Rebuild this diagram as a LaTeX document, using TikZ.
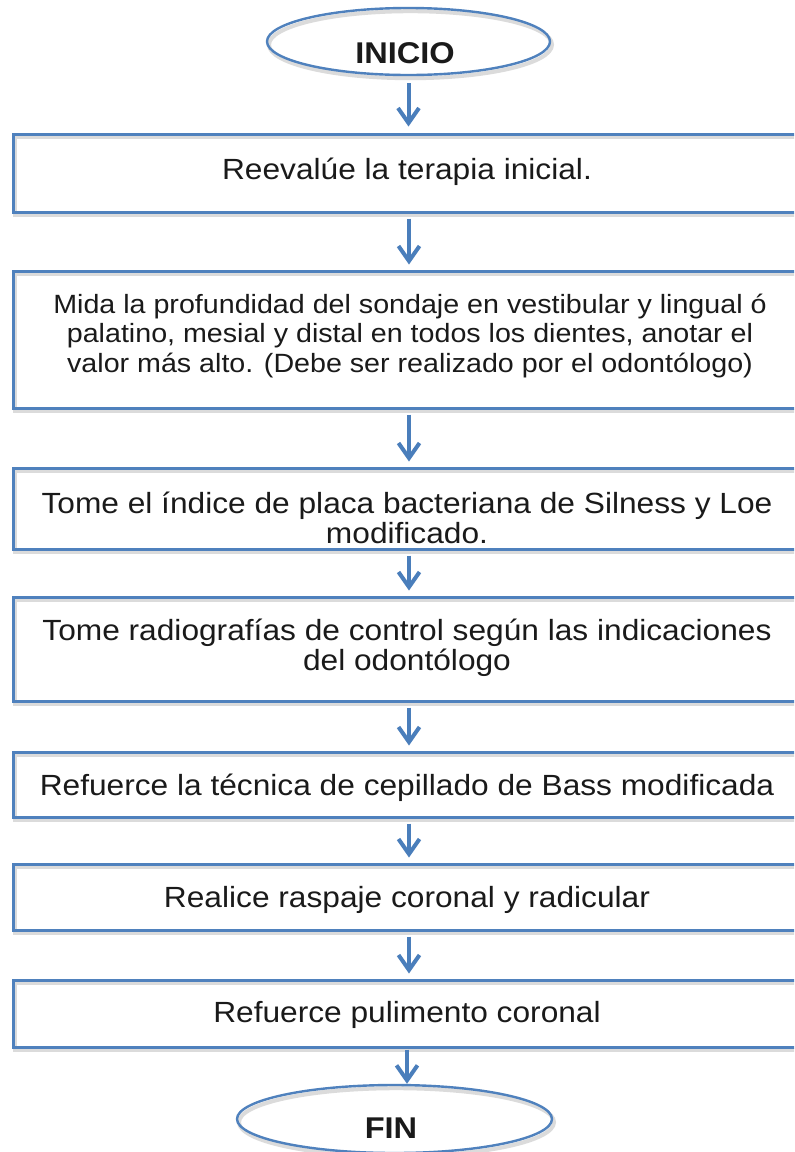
\documentclass[tikz,border=0pt]{standalone}
\usepackage{fontspec}
\setmainfont{Liberation Sans}[FakeStretch=1.085]
\usetikzlibrary{shapes.geometric,arrows.meta}
\definecolor{boxblue}{HTML}{4F81BD}
\definecolor{arrblue}{HTML}{4A7EBB}
\definecolor{txt}{HTML}{1A1A1A}
\begin{document}
\begin{tikzpicture}[x=0.5pt,y=-0.5pt,
  shadowline/.style={preaction={draw=black!14,line width=2pt,transform canvas={xshift=1pt,yshift=-1.6pt}}},
  stepbox/.style={draw=boxblue,line width=1.5pt,minimum width=396pt,inner sep=0pt,shadowline},
  term/.style={ellipse,draw=boxblue,line width=1.2pt,inner sep=0pt,shadowline},
  lbl/.style={anchor=base,inner sep=0pt,text=txt,font=\fontsize{14.6}{15}\selectfont},
  smalllbl/.style={lbl,font=\fontsize{13.2}{14.75}\selectfont},
  tlbl/.style={anchor=base,inner sep=0pt,text=txt,font=\bfseries\fontsize{15}{15}\selectfont},
  arr/.style={draw=arrblue,line width=2pt,-{Straight Barb[length=7.5pt,width=10.5pt]},shorten <=2.5pt,shorten >=2.5pt}]
\useasboundingbox (0,0) rectangle (794,1152);
\fill[white] (0,0) rectangle (794,1152);
\clip (0,0) rectangle (794,1152);

% terminals
\node[term,minimum width=141.5pt,minimum height=33.5pt] (s) at (408.5,41.5) {};
\node[tlbl] (ts) at (405,63) {INICIO};
\node[term,minimum width=157.5pt,minimum height=34pt] (e) at (394.5,1119) {};
\node[tlbl] (te) at (391,1138) {FIN};

% boxes
\node[stepbox,minimum height=39pt]   (b1) at (409,173) {};
\node[stepbox,minimum height=68.5pt] (b2) at (409,339.5) {};
\node[stepbox,minimum height=40.5pt] (b3) at (409,508.5) {};
\node[stepbox,minimum height=52pt]   (b4) at (409,649) {};
\node[stepbox,minimum height=32.5pt] (b5) at (409,784.5) {};
\node[stepbox,minimum height=33pt]   (b6) at (409,897) {};
\node[stepbox,minimum height=33.5pt] (b7) at (409,1013.5) {};

% texts
\node[lbl] (t1) at (407,179) {Reevalúe la terapia inicial.};
\node[smalllbl] (t2) at (410,313) {\parbox[t]{396pt}{\centering Mida la profundidad del sondaje en vestibular y lingual ó\\palatino, mesial y distal en todos los dientes, anotar el\\valor más alto. (Debe ser realizado por el odontólogo)}};
\node[lbl] (t3) at (407,513) {\parbox[t]{396pt}{\centering Tome el índice de placa bacteriana de Silness y Loe\\modificado.}};
\node[lbl] (t4) at (407,640) {\parbox[t]{396pt}{\centering Tome radiografías de control según las indicaciones\\del odontólogo}};
\node[lbl] (t5) at (407,795) {Refuerce la técnica de cepillado de Bass modificada};
\node[lbl] (t6) at (407,907.5) {Realice raspaje coronal y radicular};
\node[lbl] (t7) at (407,1022) {Refuerce pulimento coronal};

% arrows
\draw[arr,shorten <=3.5pt,shorten >=3pt] (s.south) -- (s.south |- b1.north);
\draw[arr] (b1.south) -- (b1.south |- b2.north);
\draw[arr] (b2.south) -- (b2.south |- b3.north);
\draw[arr] (b3.south) -- (b3.south |- b4.north);
\draw[arr] (b4.south) -- (b4.south |- b5.north);
\draw[arr] (b5.south) -- (b5.south |- b6.north);
\draw[arr] (b6.south) -- (b6.south |- b7.north);
\draw[arr,shorten <=0.5pt,shorten >=0pt] ([xshift=-1pt]b7.south) -- ([xshift=-1pt]b7.south |- e.north);
\end{tikzpicture}
\end{document}
